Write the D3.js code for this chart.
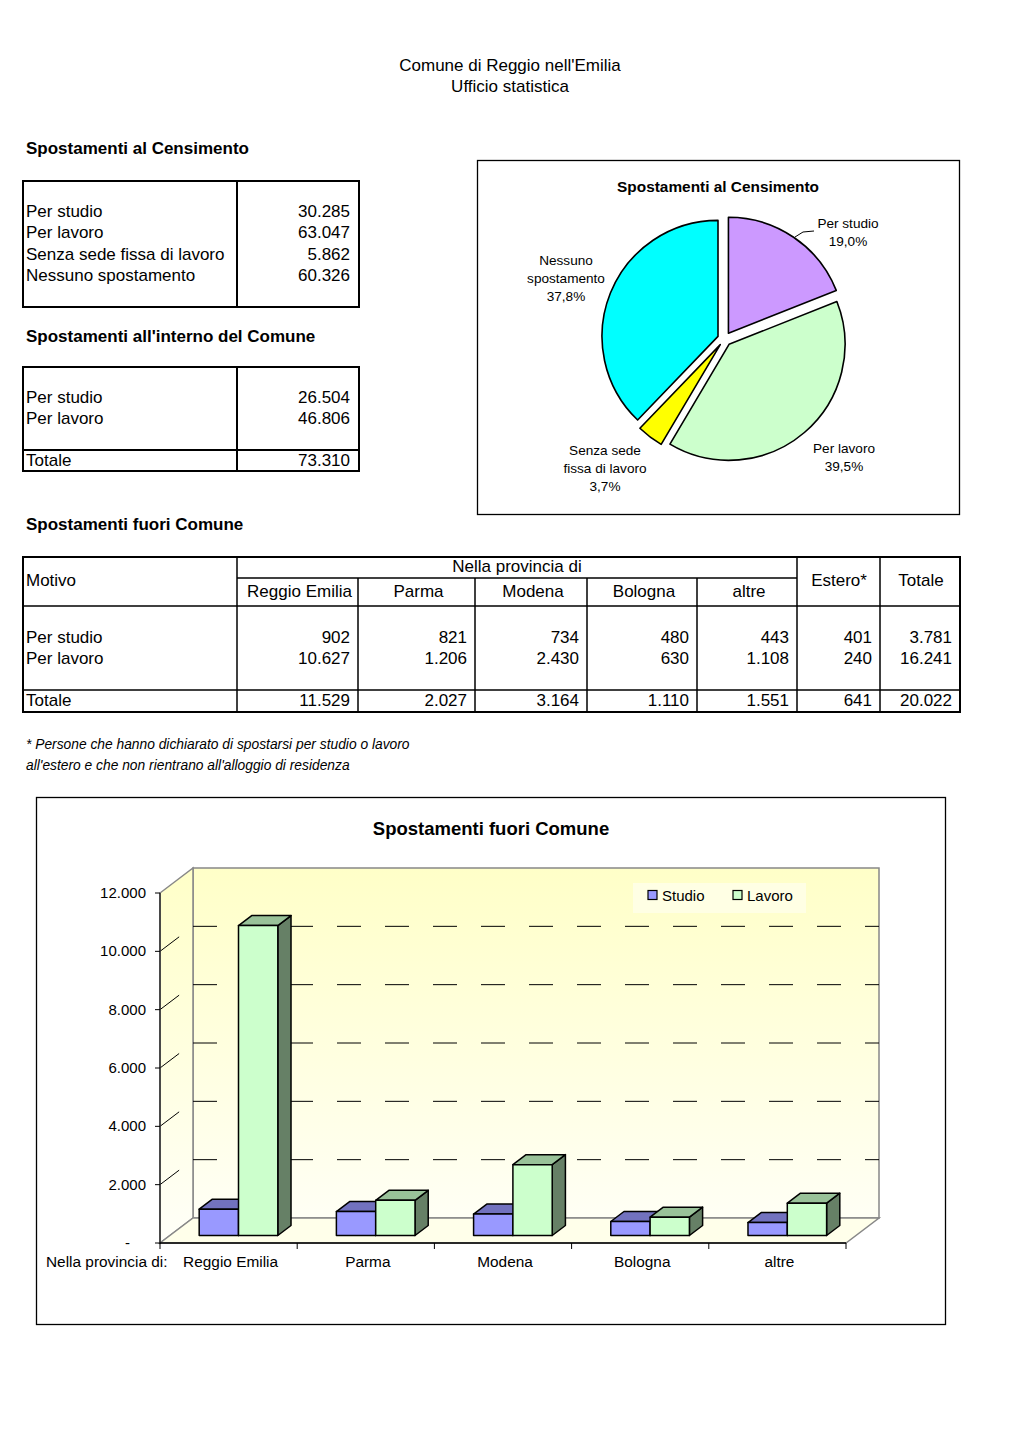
<!DOCTYPE html>
<html><head><meta charset="utf-8">
<script src="https://cdn.jsdelivr.net/npm/d3@7"></script>
<style>
html,body{margin:0;padding:0;background:#fff;}
svg{display:block;font-family:"Liberation Sans",Arial,sans-serif;}
</style></head>
<body><svg id="c" width="1020" height="1443"></svg>
<script>
// ---------- DATA ----------
const headerLines = ["Comune di Reggio nell'Emilia", "Ufficio statistica"];
const censTitle = "Spostamenti al Censimento";
const censLabels = ["Per studio", "Per lavoro", "Senza sede fissa di lavoro", "Nessuno spostamento"];
const censValues = [30285, 63047, 5862, 60326];
const pieLabelLines = [["Per studio"], ["Per lavoro"], ["Senza sede", "fissa di lavoro"], ["Nessuno", "spostamento"]];
const pieColors = ["#CC99FF", "#CCFFCC", "#FFFF00", "#00FFFF"];

const internoTitle = "Spostamenti all'interno del Comune";
const internoLabels = ["Per studio", "Per lavoro"];
const internoValues = [26504, 46806];
const internoTotal = 73310;

const fuoriTitle = "Spostamenti fuori Comune";
const provinceCats = ["Reggio Emilia", "Parma", "Modena", "Bologna", "altre"];
const studioValues = [902, 821, 734, 480, 443];
const lavoroValues = [10627, 1206, 2430, 630, 1108];
const esteroValues = [401, 240];
const rowTotals = [3781, 16241];
const colTotals = [11529, 2027, 3164, 1110, 1551, 641, 20022];
const motivoLabels = ["Per studio", "Per lavoro"];
const footnote = ["* Persone che hanno dichiarato di spostarsi per studio o lavoro",
                  "all'estero e che non rientrano all'alloggio di residenza"];

const seriesNames = ["Studio", "Lavoro"];
const yTicks = [0, 2000, 4000, 6000, 8000, 10000, 12000];
const yMax = 12000;

// ---------- SETUP ----------
const loc = d3.formatLocale({decimal: ",", thousands: ".", grouping: [3], currency: ["€", ""]});
const fmt = loc.format(",d");
const pct = loc.format(".1%");
const svg = d3.select("#c");

function txt(x, y, s, opt = {}) {
  return svg.append("text").attr("x", x).attr("y", y)
    .attr("font-size", opt.size || 17)
    .attr("font-weight", opt.bold ? "bold" : null)
    .attr("font-style", opt.italic ? "italic" : null)
    .attr("text-anchor", opt.anchor || "start")
    .attr("fill", "#000").text(s);
}
function line(x1, y1, x2, y2, w = 2, col = "#000") {
  return svg.append("line").attr("x1", x1).attr("y1", y1).attr("x2", x2).attr("y2", y2)
    .attr("stroke", col).attr("stroke-width", w);
}
function box(x, y, w, h, sw = 2) {
  return svg.append("rect").attr("x", x).attr("y", y).attr("width", w).attr("height", h)
    .attr("fill", "none").attr("stroke", "#000").attr("stroke-width", sw);
}

// ---------- HEADER ----------
txt(510, 71, headerLines[0], {anchor: "middle"});
txt(510, 92, headerLines[1], {anchor: "middle"});

// ---------- TABLE 1 ----------
txt(26, 154, censTitle, {bold: true});
box(23, 181, 336, 126);
line(237, 181, 237, 307);
censLabels.forEach((l, i) => {
  const y = 217 + i * 21.3;
  txt(26, y, l);
  txt(350, y, fmt(censValues[i]), {anchor: "end"});
});

// ---------- TABLE 2 ----------
txt(26, 342, internoTitle, {bold: true});
box(23, 367, 336, 104);
line(237, 367, 237, 471);
line(23, 450, 359, 450);
internoLabels.forEach((l, i) => {
  const y = 403 + i * 21.3;
  txt(26, y, l);
  txt(350, y, fmt(internoValues[i]), {anchor: "end"});
});
txt(26, 466, "Totale");
txt(350, 466, fmt(internoTotal), {anchor: "end"});

// ---------- TABLE 3 ----------
txt(26, 530, fuoriTitle, {bold: true});
const colX = [237, 358, 475, 587, 697, 797, 880, 960];
box(23, 557, 937, 155);
colX.slice(0, 7).forEach((x, i) => {
  line(x, i === 0 || i >= 5 ? 557 : 578, x, 712, 1.5);
});
line(237, 578, 797, 578, 1.5);
line(23, 606, 960, 606, 1.5);
line(23, 690, 960, 690, 1.5);
txt(26, 586, "Motivo");
txt(517, 572, "Nella provincia di", {anchor: "middle"});
provinceCats.forEach((c, i) => txt((colX[i] + colX[i + 1]) / 2 + 2, 597, c, {anchor: "middle"}));
txt(839, 586, "Estero*", {anchor: "middle"});
txt(921, 586, "Totale", {anchor: "middle"});
motivoLabels.forEach((m, r) => {
  const y = 643 + r * 21.3;
  txt(26, y, m);
  const vals = [studioValues, lavoroValues][r].concat([esteroValues[r], rowTotals[r]]);
  vals.forEach((v, i) => txt(colX[i + 1] - 8, y, fmt(v), {anchor: "end"}));
});
txt(26, 706, "Totale");
colTotals.forEach((v, i) => txt(colX[i + 1] - 8, 706, fmt(v), {anchor: "end"}));

txt(26, 749, footnote[0], {italic: true, size: 13.8});
txt(26, 770, footnote[1], {italic: true, size: 13.8});

// ---------- PIE ----------
box(477.5, 160.5, 482, 354, 1.3);
txt(718, 192, censTitle, {bold: true, size: 15.4, anchor: "middle"});
const pc = {x: 724.5, y: 339}, R = 116, expl = 7;
const arcs = d3.pie().sort(null).value(d => d)(censValues);
const arcGen = d3.arc().innerRadius(0).outerRadius(R);
const pieG = svg.append("g");
arcs.forEach((a, i) => {
  const mid = (a.startAngle + a.endAngle) / 2;
  pieG.append("path").attr("d", arcGen(a))
    .attr("transform", `translate(${pc.x + Math.sin(mid) * expl},${pc.y - Math.cos(mid) * expl})`)
    .attr("fill", pieColors[i]).attr("stroke", "#000").attr("stroke-width", 1.6)
    .attr("stroke-linejoin", "round");
});
const pieLabelPos = [{x: 848, y: 228}, {x: 844, y: 453}, {x: 605, y: 455}, {x: 566, y: 265}];
arcs.forEach((a, i) => {
  const lines = pieLabelLines[i].concat([pct(a.value / d3.sum(censValues))]);
  lines.forEach((s, j) => txt(pieLabelPos[i].x, pieLabelPos[i].y + j * 17.8, s, {size: 13.6, anchor: "middle"}));
});
svg.append("path").attr("d", "M795,237 L803,232 L814,231").attr("fill", "none")
  .attr("stroke", "#000").attr("stroke-width", 1);

// ---------- BAR CHART 3D ----------
box(36.5, 797.5, 909, 527, 1.3);
txt(491, 835, fuoriTitle, {bold: true, size: 18.5, anchor: "middle"});

const x0 = 160, x1 = 846, yBase = 1243, dep = {dx: 33, dy: -25};
const xBand = d3.scaleBand().domain(provinceCats).range([x0, x1]);
const xSer = d3.scaleBand().domain(seriesNames).range([0, xBand.bandwidth()]).paddingInner(0).paddingOuter(0.745);
const yScale = d3.scaleLinear().domain([0, yMax]).range([yBase, yBase - 350]);
const P = (x, v, f) => [x + f * dep.dx, yScale(v) + f * dep.dy];
const poly = pts => "M" + pts.map(p => p.join(",")).join("L") + "Z";

const defs = svg.append("defs");
const gr = defs.append("linearGradient").attr("id", "wall").attr("gradientUnits", "userSpaceOnUse")
  .attr("x1", 0).attr("y1", P(x0, yMax, 1)[1]).attr("x2", 0).attr("y2", yBase);
gr.append("stop").attr("offset", "0%").attr("stop-color", "#FFFFC8");
gr.append("stop").attr("offset", "100%").attr("stop-color", "#FFFFF8");

const g3 = svg.append("g");
g3.append("path").attr("d", poly([P(x0, 0, 1), P(x0, yMax, 1), P(x1, yMax, 1), P(x1, 0, 1)]))
  .attr("fill", "url(#wall)").attr("stroke", "#888").attr("stroke-width", 1.5);
g3.append("path").attr("d", poly([P(x0, 0, 0), P(x0, yMax, 0), P(x0, yMax, 1), P(x0, 0, 1)]))
  .attr("fill", "url(#wall)").attr("stroke", "#888").attr("stroke-width", 1.5);
g3.append("path").attr("d", poly([P(x0, 0, 0), P(x1, 0, 0), P(x1, 0, 1), P(x0, 0, 1)]))
  .attr("fill", "#FFFFEA").attr("stroke", "#888").attr("stroke-width", 1.5);

yTicks.filter(v => v > 0 && v < yMax).forEach(v => {
  const a = P(x0, v, 1), b = P(x1, v, 1);
  g3.append("line").attr("x1", a[0]).attr("y1", a[1]).attr("x2", b[0]).attr("y2", b[1])
    .attr("stroke", "#000").attr("stroke-width", 1).attr("stroke-dasharray", "24,24");
  const c = P(x0, v, 0), d = P(x0, v, 0.58);
  g3.append("line").attr("x1", c[0]).attr("y1", c[1]).attr("x2", d[0]).attr("y2", d[1])
    .attr("stroke", "#000").attr("stroke-width", 1);
});

g3.append("rect").attr("x", 633).attr("y", 883).attr("width", 173).attr("height", 30).attr("fill", "#FFFFE4");
const serFront = ["#9999FF", "#CCFFCC"], serTop = ["#7272BF", "#99C299"], serSide = ["#5C5C99", "#668066"];
[648, 733].forEach((lx, i) => {
  g3.append("rect").attr("x", lx).attr("y", 890.5).attr("width", 9).attr("height", 9)
    .attr("fill", serFront[i]).attr("stroke", "#000").attr("stroke-width", 1.2);
  txt(lx + 14, 901, seriesNames[i], {size: 15});
});

line(x0, yScale(yMax), x0, yBase + 1, 1.6, "#333");
line(x0, yBase, x1, yBase, 1.6, "#000");
yTicks.forEach(v => {
  line(x0 - 5, yScale(v), x0, yScale(v), 1, "#000");
  txt(v === 0 ? 130 : 146, yScale(v) + 5, v === 0 ? "-" : fmt(v), {size: 15, anchor: "end"});
});
provinceCats.concat([null]).forEach((c, i) => {
  const x = x0 + i * xBand.step();
  line(x, yBase, x, yBase + 6, 1, "#000");
});
provinceCats.forEach(c => txt(xBand(c) + xBand.bandwidth() / 2 + 2, 1267, c, {size: 15.4, anchor: "middle"}));
txt(46, 1267, "Nella provincia di:", {size: 15.4});

const f1 = 0.3, f2 = 0.7;
provinceCats.forEach((c, ci) => {
  [studioValues[ci], lavoroValues[ci]].forEach((v, si) => {
    const xs = xBand(c) + xSer(seriesNames[si]), w = xSer.bandwidth();
    const gb = g3.append("g").attr("stroke", "#000").attr("stroke-width", 1.5).attr("stroke-linejoin", "round");
    gb.append("path").attr("d", poly([P(xs + w, 0, f1), P(xs + w, v, f1), P(xs + w, v, f2), P(xs + w, 0, f2)])).attr("fill", serSide[si]);
    gb.append("path").attr("d", poly([P(xs, v, f1), P(xs + w, v, f1), P(xs + w, v, f2), P(xs, v, f2)])).attr("fill", serTop[si]);
    gb.append("path").attr("d", poly([P(xs, 0, f1), P(xs + w, 0, f1), P(xs + w, v, f1), P(xs, v, f1)])).attr("fill", serFront[si]);
  });
});
</script></body></html>
